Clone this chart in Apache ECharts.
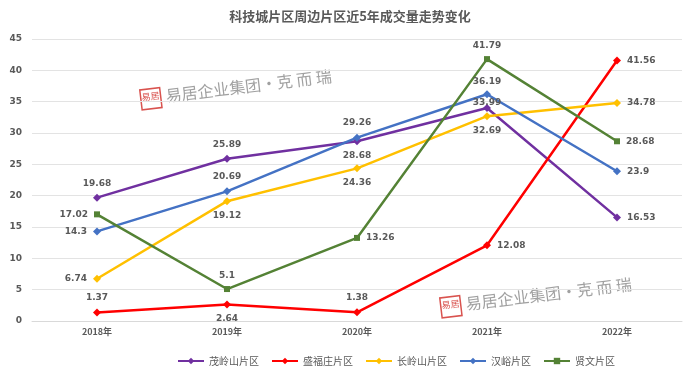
<!DOCTYPE html>
<html>
<head>
<meta charset="utf-8">
<script src="https://cdn.jsdelivr.net/npm/echarts@6/dist/echarts.min.js"></script>
<style>
  html, body { margin: 0; padding: 0; background: #fff; }
  #chart { width: 700px; height: 377px; }
</style>
</head>
<body>
<div id="chart"></div>
<script>
  // data
  var years = ['2018年', '2019年', '2020年', '2021年', '2022年'];
  var maoling = [19.68, 25.89, 28.68, 33.99, 16.53];
  var shengfu = [1.37, 2.64, 1.38, 12.08, 41.56];
  var changling = [6.74, 19.12, 24.36, 32.69, 34.78];
  var hanyu = [14.3, 20.69, 29.26, 36.19, 23.9];
  var xianwen = [17.02, 5.1, 13.26, 41.79, 28.68];
  var yTicks = [0, 5, 10, 15, 20, 25, 30, 35, 40, 45];

  var labelFont = {fontSize: 9, fontWeight: 'bold', color: '#595959', fontFamily: 'DejaVu Sans'};

  // per-point label placement like the original
  function withLabels(values, positions, distances) {
    return values.map(function (v, i) {
      var lbl = {position: positions[i]};
      if (distances && distances[i] != null) lbl.distance = distances[i];
      return {value: v, label: lbl};
    });
  }

  function makeSeries(name, color, symbol, values, positions, distances) {
    return {
      name: name,
      type: 'line',
      data: withLabels(values, positions, distances),
      symbol: symbol,
      symbolSize: symbol === 'rect' ? 6 : 8,
      lineStyle: {color: color, width: 2.5},
      itemStyle: {color: color},
      label: Object.assign({show: true, distance: 6}, labelFont),
      animation: false
    };
  }

  var chart = echarts.init(document.getElementById('chart'));

  function watermark(x, y) {
    return {
      type: 'group',
      x: x, y: y,
      rotation: 0.12,
      silent: true,
      children: [
        {type: 'rect', shape: {x: 0, y: -2, width: 20, height: 20},
          style: {fill: 'rgba(255,255,255,0.6)', stroke: '#d9534f', lineWidth: 1.5}},
        {type: 'text', x: 1, y: 1, style: {text: '易居', fill: '#d9534f', fontSize: 9,
            fontFamily: 'Noto Sans CJK SC'}},
        {type: 'text', x: 25, y: -1, style: {text: '易居企业集团·克 而 瑞', fill: 'rgba(120,120,120,0.7)',
            fontSize: 16, fontFamily: 'Noto Sans CJK SC'}}
      ]
    };
  }

  chart.setOption({
    backgroundColor: '#fff',
    title: {
      text: '科技城片区周边片区近5年成交量走势变化',
      left: 'center',
      top: 5,
      textStyle: {fontSize: 13, fontWeight: 'bold', color: '#595959', fontFamily: 'Noto Sans CJK SC'}
    },
    grid: {left: 32, right: 18, top: 39, bottom: 56},
    xAxis: {
      type: 'category',
      data: years,
      boundaryGap: true,
      axisLine: {lineStyle: {color: '#d9d9d9'}},
      axisTick: {show: false},
      axisLabel: {fontSize: 9, fontWeight: 'bold', color: '#595959', margin: 6, fontFamily: 'Noto Sans CJK SC'}
    },
    yAxis: {
      type: 'value',
      min: yTicks[0],
      max: yTicks[yTicks.length - 1],
      interval: 5,
      axisLine: {show: false},
      axisTick: {show: false},
      axisLabel: {fontSize: 9, fontWeight: 'bold', color: '#595959', margin: 10, fontFamily: 'DejaVu Sans'},
      splitLine: {lineStyle: {color: '#e3e3e3'}}
    },
    legend: {
      bottom: 6,
      left: 172,
      itemWidth: 26,
      itemHeight: 8,
      itemGap: 12,
      textStyle: {fontSize: 10, color: '#595959', fontFamily: 'Noto Sans CJK SC'}
    },
    graphic: [watermark(140, 92), watermark(440, 300)],
    series: [
      makeSeries('茂岭山片区', '#7030A0', 'diamond', maoling, ['top', 'top', 'bottom', 'top', 'right'], [null, null, null, -3]),
      makeSeries('盛福庄片区', '#FF0000', 'diamond', shengfu, ['top', 'bottom', 'top', 'right', 'right']),
      makeSeries('长岭山片区', '#FFC000', 'diamond', changling, ['left', 'bottom', 'bottom', 'bottom', 'right']),
      makeSeries('汉峪片区', '#4472C4', 'diamond', hanyu, ['left', 'top', 'top', 'top', 'right'], [null, null, null, 4]),
      makeSeries('贤文片区', '#548235', 'rect', xianwen, ['left', 'top', 'right', 'top', 'right'])
    ]
  });
</script>
</body>
</html>
